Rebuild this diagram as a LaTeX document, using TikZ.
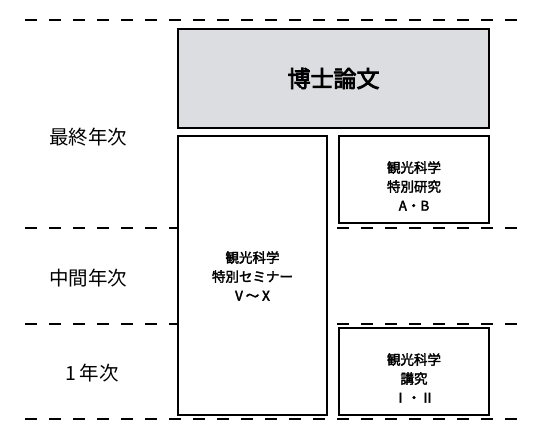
\documentclass[tikz,border=0pt]{standalone}
\usepackage{fontspec}
\setmainfont{Noto Sans CJK JP}
\newfontfamily\mediumjp[FakeBold=2.5]{Noto Sans CJK JP}
\newfontfamily\titlejp[FakeBold=3.5]{Noto Sans CJK JP}
\definecolor{thesisgray}{RGB}{220,221,224}
\tikzset{
    yearline/.style={line width=1.6pt, dash pattern=on 12pt off 12pt},
    coursebox/.style={draw, line width=1.8pt, fill=white, inner sep=0pt},
    coursetext/.style={align=center, font=\mediumjp\fontsize{13.5}{19}\selectfont},
    yearlabel/.style={font=\fontsize{19.5}{22}\selectfont}
}
\begin{document}
\begin{tikzpicture}[x=1pt, y=-1pt]
                \useasboundingbox (0,0) rectangle (537,434);
                % year borders
                \foreach \y in {20,228,324,419}
                    \draw[yearline] (25,\y) -- (517,\y);
                % year names
                \node[yearlabel] (final) at (88,137) {最終年次};
                \node[yearlabel] (middle) at (88,278) {中間年次};
                \node[yearlabel] (first) at (92,373) {1\hspace{4pt}年次};
                % courses
                \node[coursebox, fill=thesisgray, minimum width=311pt, minimum height=99pt,
                    font=\titlejp\fontsize{23}{26}\selectfont] (thesis) at (333.5,78.5) {博士論文};
                \node[coursebox, minimum width=149pt, minimum height=279pt] (seminar) at (252.5,275.5) {};
                \node[coursetext] (seminartext) at (252.5,276) {観光科学\\特別セミナー\\Ⅴ〜Ⅹ};
                \node[coursebox, minimum width=150pt, minimum height=87pt] (research) at (414,179.5) {};
                \node[coursetext] (researchtext) at (414,186) {観光科学\\特別研究\\A・B};
                \node[coursebox, minimum width=150pt, minimum height=87pt] (lecture) at (414,371.5) {};
                \node[coursetext] (lecturetext) at (414,378) {観光科学\\講究\\Ⅰ・Ⅱ};
\end{tikzpicture}
\end{document}
